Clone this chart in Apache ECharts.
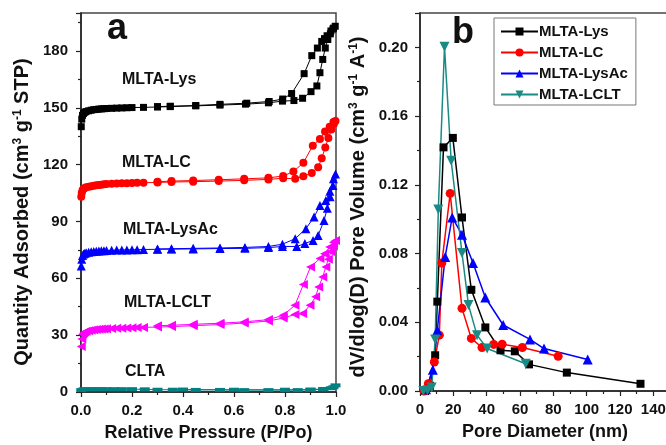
<!DOCTYPE html>
<html>
<head>
<meta charset="utf-8">
<script src="https://cdn.jsdelivr.net/npm/echarts@6/dist/echarts.min.js"></script>
<style>
  html, body { margin: 0; padding: 0; background: #fff; }
  #chart { width: 666px; height: 445px; }
</style>
</head>
<body>
<div id="chart"></div>
<script>
// (a) N2 isotherms: [P/Po, quantity adsorbed] adsorption then desorption branch
var lysAds = [[0.001,140],[0.003,144],[0.006,146],[0.01,147],[0.015,147.6],[0.02,148],[0.03,148.4],[0.04,148.7],[0.05,149],[0.06,149.1],[0.07,149.3],[0.08,149.4],[0.09,149.5],[0.1,149.6],[0.12,149.7],[0.14,149.8],[0.16,149.9],[0.18,150],[0.2,150.1],[0.245,150.2],[0.3,150.4],[0.35,150.6],[0.45,151],[0.545,151.4],[0.645,151.9],[0.735,152.6],[0.79,153.5],[0.835,153.8],[0.869,155],[0.902,158.5],[0.925,161.5],[0.937,168.5],[0.948,175.5],[0.958,181.5],[0.968,186],[0.978,189],[0.988,191.5],[0.997,193]]
var lysDes = [[0.99,192],[0.98,190.5],[0.965,188],[0.955,186.5],[0.944,185],[0.927,181.5],[0.905,177.5],[0.875,168],[0.826,157.5],[0.791,154.6],[0.738,153.3],[0.65,152.4],[0.545,151.8],[0.45,151.2],[0.35,150.8],[0.3,150.6]]
var lcAds = [[0.001,103],[0.003,105],[0.006,106.5],[0.01,107.2],[0.015,107.6],[0.02,108],[0.03,108.3],[0.04,108.6],[0.05,108.9],[0.06,109.1],[0.07,109.3],[0.08,109.4],[0.09,109.6],[0.1,109.8],[0.12,109.9],[0.14,110],[0.16,110.1],[0.18,110.2],[0.2,110.3],[0.22,110.4],[0.245,110.4],[0.3,110.6],[0.355,110.8],[0.44,111],[0.54,111.3],[0.64,111.7],[0.735,112.2],[0.793,112.8],[0.84,112.5],[0.872,113.8],[0.905,115.6],[0.93,118.6],[0.944,123.3],[0.958,129],[0.97,134],[0.982,138.5],[0.992,141.5],[0.998,143]]
var lcDes = [[0.99,142.5],[0.975,140],[0.957,137.5],[0.937,133.5],[0.909,130],[0.872,121],[0.833,116.3],[0.793,114],[0.735,113],[0.64,112.5],[0.54,112],[0.44,111.6],[0.355,111.3],[0.3,111]]
var lysAcAds = [[0.001,66.5],[0.003,70],[0.006,72],[0.01,72.8],[0.015,73.2],[0.02,73.5],[0.03,73.8],[0.04,74],[0.05,74.2],[0.06,74.3],[0.07,74.4],[0.08,74.5],[0.09,74.6],[0.1,74.7],[0.12,74.8],[0.14,74.9],[0.16,75],[0.18,75],[0.2,75.1],[0.22,75.1],[0.245,75.2],[0.3,75.3],[0.355,75.4],[0.44,75.5],[0.545,75.7],[0.643,75.8],[0.735,76.2],[0.79,76.8],[0.846,76.8],[0.878,78.3],[0.91,80],[0.93,82.6],[0.953,90.5],[0.966,97],[0.977,103],[0.988,109],[0.998,115]]
var lysAcDes = [[0.99,112.5],[0.976,106],[0.96,101],[0.937,98.4],[0.914,92.3],[0.882,86.2],[0.84,80.9],[0.79,78],[0.735,76.8],[0.643,76.3],[0.545,76],[0.44,75.8],[0.355,75.6],[0.3,75.5]]
var lcltAds = [[0.001,24],[0.003,28],[0.006,30.5],[0.01,31.2],[0.015,31.6],[0.02,32],[0.03,32.3],[0.04,32.6],[0.05,32.8],[0.06,33],[0.07,33.1],[0.08,33.2],[0.09,33.3],[0.1,33.4],[0.12,33.5],[0.14,33.6],[0.16,33.7],[0.18,33.8],[0.2,33.9],[0.22,34],[0.245,34.1],[0.3,34.3],[0.355,34.5],[0.44,35],[0.545,35.6],[0.64,36.4],[0.735,37.5],[0.793,39],[0.839,40.9],[0.869,41.4],[0.898,45.8],[0.92,50.2],[0.932,55.4],[0.948,60.7],[0.96,66],[0.97,70],[0.98,74],[0.99,77],[0.998,80]]
var lcltDes = [[0.99,79],[0.975,76.5],[0.955,73],[0.937,70.4],[0.9,66],[0.872,56.7],[0.839,45.8],[0.793,40.5],[0.735,38.2],[0.64,37],[0.545,36.3],[0.44,35.7],[0.355,35.2],[0.3,35]]
var cltaAds = [[0.001,1],[0.01,1.4],[0.02,1.5],[0.04,1.5],[0.06,1.5],[0.08,1.5],[0.1,1.5],[0.13,1.5],[0.16,1.5],[0.2,1.5],[0.25,1.4],[0.3,1.2],[0.36,1.2],[0.45,1.1],[0.545,1.1],[0.64,1],[0.735,1],[0.8,1],[0.85,1],[0.9,1.1],[0.95,1.4],[0.98,2],[0.998,3.5]]
var cltaDes = [[0.99,2.5],[0.95,1.6],[0.9,1.3],[0.8,1.2],[0.6,1.2],[0.4,1.3]]

// (b) pore size distribution: [pore diameter nm, dV/dlog(D)]
var lysPsd = [[3,0],[6,0.003],[9.1,0.0208],[10.4,0.052],[14.1,0.1418],[19.7,0.1473],[25.2,0.101],[30.8,0.0589],[39.2,0.037],[48.3,0.0237],[56.9,0.0231],[65.4,0.0155],[88.1,0.0107],[132.3,0.0042]]
var lcPsd = [[2.5,0],[5,0.0042],[8.6,0.0169],[11.6,0.0325],[13.1,0.0745],[18.1,0.115],[25.2,0.0481],[30.8,0.0306],[37.2,0.0253],[44.2,0.0271],[49.3,0.0272],[61.4,0.0253],[82.9,0.0202]]
var lysAcPsd = [[3.6,0.001],[7.7,0.0124],[10.4,0.0354],[15.1,0.078],[19.3,0.101],[25.2,0.091],[31.8,0.0745],[39.2,0.0544],[49.9,0.0384],[66,0.03],[74.4,0.0247],[100.6,0.0183]]
var lcltPsd = [[2,0],[4.5,0.0005],[7,0.002],[9.1,0.03],[11,0.1057],[14.7,0.2004],[18.7,0.134],[25.2,0.0803],[29.1,0.05],[34.2,0.0325],[40.3,0.0247],[63.4,0.0159]]

var sampleNames = ['MLTA-Lys', 'MLTA-LC', 'MLTA-LysAc', 'MLTA-LCLT']
var isoLabels = [
  { text: 'MLTA-Lys', x: 122, y: 80 },
  { text: 'MLTA-LC', x: 122, y: 163 },
  { text: 'MLTA-LysAc', x: 123, y: 230 },
  { text: 'MLTA-LCLT', x: 124, y: 303 },
  { text: 'CLTA', x: 125, y: 372 }
]

var FONT = '"Liberation Sans", Arial, sans-serif'
var AXC = '#222'

function boxAxis(grid, extra) {
  var a = {
    gridIndex: grid,
    type: 'value',
    axisLine: { show: true, onZero: false, lineStyle: { color: AXC, width: 1.5 } },
    axisTick: { show: true, inside: false, length: 5, lineStyle: { color: AXC, width: 1.2 } },
    minorTick: { show: true, splitNumber: 2, length: 3, lineStyle: { color: AXC, width: 1.2 } },
    splitLine: { show: false },
    minorSplitLine: { show: false },
    axisLabel: { color: '#111', fontFamily: FONT, fontWeight: 'bold', fontSize: 15, margin: 11, showMaxLabel: false },
    nameLocation: 'middle',
    nameTextStyle: { color: '#111', fontFamily: FONT, fontWeight: 'bold', fontSize: 18 }
  }
  for (var k in extra) a[k] = extra[k]
  return a
}

var supRich = {
  t: { fontFamily: FONT, fontWeight: 'bold', fontSize: 20, fill: '#111' },
  s: { fontFamily: FONT, fontWeight: 'bold', fontSize: 12, fill: '#111', verticalAlign: 'top' }
}

function yTitle(text, x, y) {
  return {
    type: 'text', x: x, y: y, rotation: Math.PI / 2,
    style: { text: text, rich: supRich, align: 'center', verticalAlign: 'middle', fill: '#111' }
  }
}

function iso(name, ads, des, color, symbol, size, rot) {
  return {
    name: name + ' (a)', type: 'line', xAxisIndex: 0, yAxisIndex: 0,
    data: ads.concat(des), symbol: symbol, symbolSize: size, symbolRotate: rot || 0,
    itemStyle: { color: color }, lineStyle: { color: color, width: 1 },
    animation: false, z: 3
  }
}

function psd(name, data, color, symbol, size, rot) {
  return {
    name: name, type: 'line', xAxisIndex: 1, yAxisIndex: 1,
    data: data, symbol: symbol, symbolSize: size, symbolRotate: rot || 0,
    itemStyle: { color: color }, lineStyle: { color: color, width: 1.5 },
    animation: false
  }
}

var chart = echarts.init(document.getElementById('chart'), null, { renderer: 'canvas' })
chart.setOption({
  backgroundColor: '#fff',
  animation: false,
  grid: [
    { left: 81, right: 330, top: 13, bottom: 53, show: true, borderColor: '#444', borderWidth: 1.5, outerBoundsMode: 'none' },
    { left: 420, right: -4, top: 13, bottom: 54, show: true, borderColor: '#444', borderWidth: 1.5, outerBoundsMode: 'none' }
  ],
  xAxis: [
    boxAxis(0, { min: 0, max: 1, interval: 0.2, name: 'Relative Pressure (P/Po)', nameGap: 32,
      axisLabel: { color: '#111', fontFamily: FONT, fontWeight: 'bold', fontSize: 15, margin: 11,
        formatter: function (v) { return v.toFixed(1) } } }),
    boxAxis(1, { min: 0, max: 150, interval: 20, name: 'Pore Diameter (nm)', nameGap: 32 })
  ],
  yAxis: [
    boxAxis(0, { min: 0, max: 200, interval: 30,
      axisLabel: { color: '#111', fontFamily: FONT, fontWeight: 'bold', fontSize: 15, margin: 13, showMaxLabel: false } }),
    boxAxis(1, { min: 0, max: 0.22, interval: 0.04,
      axisLabel: { color: '#111', fontFamily: FONT, fontWeight: 'bold', fontSize: 15, margin: 12, showMaxLabel: false,
        formatter: function (v) { return v.toFixed(2) } } })
  ],
  legend: {
    data: sampleNames,
    orient: 'vertical',
    left: 494, top: 18,
    padding: [6, 8, 3, 6],
    itemGap: 6,
    itemWidth: 37, itemHeight: 10,
    borderColor: '#777', borderWidth: 1,
    textStyle: { color: '#111', fontFamily: FONT, fontWeight: 'bold', fontSize: 15, padding: [0, 0, 0, -4] }
  },
  graphic: isoLabels.map(function (l) {
    return { type: 'text', x: l.x, y: l.y, style: { text: l.text, fill: '#111', font: 'bold 16px ' + FONT, verticalAlign: 'middle' } }
  }).concat([
    { type: 'text', x: 107, y: 47, style: { text: 'a', fill: '#111', font: 'bold 36px ' + FONT, verticalAlign: 'bottom' } },
    { type: 'text', x: 452, y: 51, style: { text: 'b', fill: '#111', font: 'bold 36px ' + FONT, verticalAlign: 'bottom' } },
    yTitle('{t|Quantity Adsorbed (cm}{s|3}{t| g}{s|-1}{t| STP)}', 22, 212),
    yTitle('{t|dV/dlog(D) Pore Volume (cm}{s|3}{t| g}{s|-1}{t| A}{s|-1}{t|)}', 358, 207)
  ]),
  series: [
    iso('MLTA-Lys', lysAds, lysDes, '#000000', 'rect', 7),
    iso('MLTA-LC', lcAds, lcDes, '#ff0000', 'circle', 8),
    iso('MLTA-LysAc', lysAcAds, lysAcDes, '#0000ff', 'triangle', 9),
    iso('MLTA-LCLT', lcltAds, lcltDes, '#ff00ff', 'triangle', 9, 90),
    iso('CLTA', cltaAds, cltaDes, '#008080', 'rect', [10, 4]),
    psd('MLTA-Lys', lysPsd, '#000000', 'rect', 8),
    psd('MLTA-LC', lcPsd, '#ff0000', 'circle', 9),
    psd('MLTA-LysAc', lysAcPsd, '#0000ff', 'triangle', 10),
    psd('MLTA-LCLT', lcltPsd, '#1a8a84', 'triangle', 10, 180)
  ]
})
</script>
</body>
</html>
